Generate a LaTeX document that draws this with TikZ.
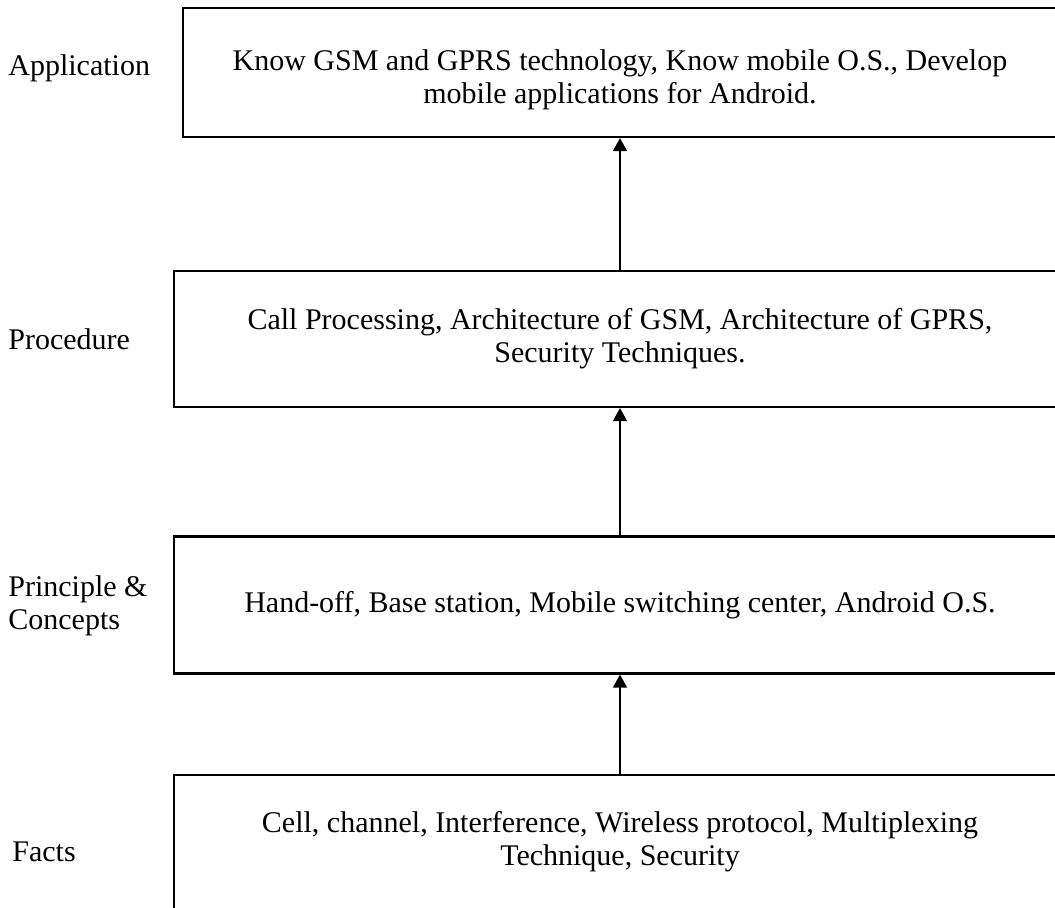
\documentclass[tikz,border=0pt]{standalone}
\usepackage{fontspec}
\setmainfont{Liberation Serif}
\usetikzlibrary{positioning}
\usetikzlibrary{arrows.meta}

\begin{document}
\begin{tikzpicture}[font=\fontsize{15pt}{16.4pt}\selectfont,
	level/.style={rectangle,draw,line width=1.1pt,align=center,minimum width=446pt,minimum height=68pt},
	side/.style={align=left,anchor=west,inner sep=0pt}]

		  % Rahmen
		  \clip (-310pt,36.25pt) rectangle (217.5pt,-417.25pt);

		  % Ebenen
		  \node[level,minimum width=437pt,minimum height=64.5pt] (App) {};
		  \node[align=center] (AppT) [below=3.5pt of App.center,anchor=center] {Know GSM and GPRS technology, Know mobile O.S., Develop\\mobile applications for Android.};
		  \node[level] (Proc)  [below=133.25pt of App.center,anchor=center] {Call Processing, Architecture of GSM, Architecture of GPRS,\\Security Techniques.};
		  \node[level,minimum height=68.5pt] (Princ) [below=133pt of Proc.center,anchor=center] {Hand-off, Base station, Mobile switching center, Android O.S.};
		  \node[level,minimum height=67pt] (Facts) [below=118.5pt of Princ.center,anchor=center] {Cell, channel, Interference, Wireless protocol, Multiplexing\\Technique, Security};

		  % Beschriftung links
		  \node[side] (AppL)   at (-306pt,2pt)      {Application};
		  \node[side] (ProcL)  at (-306pt,-133.5pt) {Procedure};
		  \node[side] (PrincL) at (-306pt,-266.5pt) {Principle \&\\Concepts};
		  \node[side] (FactsL) at (-304pt,-389.5pt) {Facts};

		  \path[-{Triangle[width=7pt,length=6.5pt]},line width=0.8pt]
			(Facts) edge (Princ)
			(Princ) edge (Proc)
			(Proc)  edge (App);

\end{tikzpicture}
\end{document}
